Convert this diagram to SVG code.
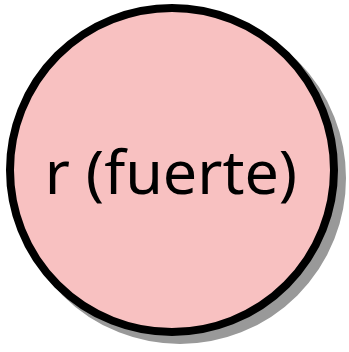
<svg xmlns="http://www.w3.org/2000/svg" width="349" height="352" viewBox="0 0 349 352">
<style>
.shadow{fill:#999999;stroke:#999999;stroke-width:8}
.node{fill:#f8c1c1;stroke:#000;stroke-width:8}
.lbl{font-family:"Noto Sans",sans-serif;font-size:61px;fill:#000;text-anchor:middle}
</style>
<g id="connectors"></g>
<g id="node-r">
<circle class="shadow" cx="180" cy="178" r="162"/>
<circle class="node" cx="172" cy="170" r="162"/>
<text class="lbl" x="171" y="194">r (fuerte)</text>
</g>
</svg>
